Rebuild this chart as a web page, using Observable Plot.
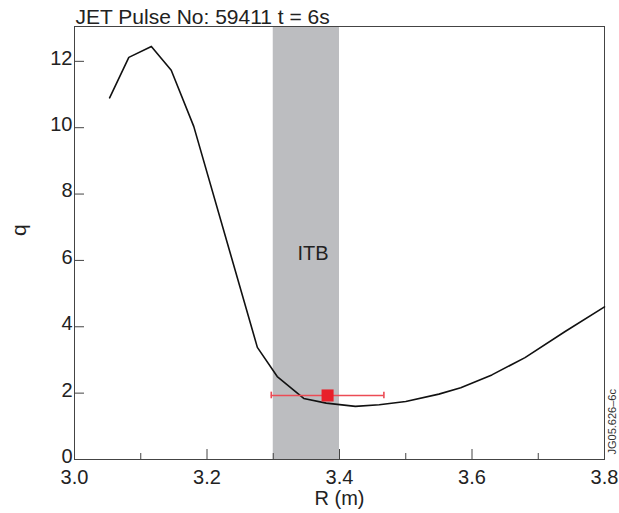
<!DOCTYPE html>
<html>
<head>
<meta charset="utf-8">
<script src="https://cdn.jsdelivr.net/npm/d3@7"></script>
<script src="https://cdn.jsdelivr.net/npm/@observablehq/plot@0.6"></script>
<style>
  html, body { margin: 0; padding: 0; background: #fff; }
</style>
</head>
<body>
<div id="chart"></div>
<script>
// q profile along major radius R (m)
const radius = [3.053, 3.082, 3.116, 3.146, 3.180, 3.276, 3.306, 3.346, 3.380, 3.424, 3.460, 3.500, 3.550, 3.583, 3.630, 3.680, 3.740, 3.800];
const qValues = [10.9, 12.12, 12.45, 11.73, 10.04, 3.38, 2.50, 1.84, 1.70, 1.60, 1.65, 1.75, 1.97, 2.16, 2.55, 3.07, 3.85, 4.60];

// ITB region
const itbStart = [3.3];
const itbEnd = [3.4];
const itbLabel = ["ITB"];
const itbLabelPos = [3.36, 6.2];

// measured point with horizontal error bar
const pointR = [3.382];
const pointQ = [1.93];
const pointRLow = [3.297];
const pointRHigh = [3.467];

// ticks
const xMajorTicks = [3.0, 3.2, 3.4, 3.6, 3.8];
const xMinorTicks = [3.1, 3.3, 3.5, 3.7];
const yTicks = [0, 2, 4, 6, 8, 10, 12];

const titleText = ["JET Pulse No: 59411 t = 6s"];
const xLabel = ["R (m)"];
const yLabel = ["q"];
const stamp = ["JG05.626\u20136c"];

const curve = radius.map((r, i) => ({r, q: qValues[i]}));
const itb = itbStart.map((s, i) => ({x1: s, x2: itbEnd[i]}));
const pts = pointR.map((r, i) => ({r, q: pointQ[i], lo: pointRLow[i], hi: pointRHigh[i]}));

const chart = Plot.plot({
  width: 619,
  height: 513,
  marginLeft: 74,
  marginRight: 15,
  marginTop: 26,
  marginBottom: 54,
  style: {fontFamily: "'Liberation Sans', Arial, Helvetica, sans-serif", fontSize: "20px", color: "#222", background: "#fff"},
  x: {domain: [3.0, 3.8]},
  y: {domain: [0, 13.05]},
  marks: [
    Plot.rect(itb, {x1: "x1", x2: "x2", fill: "#bcbdc0"}),
    Plot.frame({stroke: "#444", strokeWidth: 1}),
    Plot.axisX({ticks: xMajorTicks, tickSize: -10, tickPadding: 20, tickFormat: d => d.toFixed(1), label: null, stroke: "#444", fontSize: 20}),
    Plot.axisX({ticks: xMinorTicks, tickSize: -6, tickFormat: () => "", label: null, stroke: "#444"}),
    Plot.axisY({ticks: yTicks, tickSize: -10, tickFormat: () => "", label: null, stroke: "#444"}),
    Plot.axisY({ticks: yTicks, tickSize: 0, tickPadding: 2, tickFormat: d => String(d), label: null, fontSize: 20, dy: -3}),
    Plot.text(itbLabel, {x: () => itbLabelPos[0], y: () => itbLabelPos[1], text: d => d, fontSize: 20, fill: "#222"}),
    Plot.line(curve, {x: "r", y: "q", stroke: "#111", strokeWidth: 1.6}),
    Plot.ruleY(pts, {y: "q", x1: "lo", x2: "hi", stroke: "#ec4b55", strokeWidth: 1.6}),
    Plot.ruleX(pts, {x: "lo", y1: d => d.q - 0.1, y2: d => d.q + 0.1, stroke: "#ec4b55", strokeWidth: 1.6}),
    Plot.ruleX(pts, {x: "hi", y1: d => d.q - 0.1, y2: d => d.q + 0.1, stroke: "#ec4b55", strokeWidth: 1.6}),
    Plot.dot(pts, {x: "r", y: "q", symbol: "square", r: 6.8, fill: "#e8202a", stroke: "none"}),
    Plot.text(titleText, {frameAnchor: "top-left", text: d => d, textAnchor: "start", lineAnchor: "bottom", dx: 1, dy: -3, fontSize: 21, fill: "#222"}),
    Plot.text(xLabel, {frameAnchor: "bottom", text: d => d, lineAnchor: "middle", dy: 39, fontSize: 20, fill: "#222"}),
    Plot.text(yLabel, {frameAnchor: "left", text: d => d, rotate: -90, lineAnchor: "middle", dx: -55, dy: -7, fontSize: 21, fill: "#222"}),
    Plot.text(stamp, {frameAnchor: "bottom-right", text: d => d, rotate: -90, textAnchor: "start", lineAnchor: "middle", dx: 8, dy: -5, fontSize: 11, fill: "#333"})
  ]
});
document.getElementById("chart").appendChild(chart);
</script>
</body>
</html>
